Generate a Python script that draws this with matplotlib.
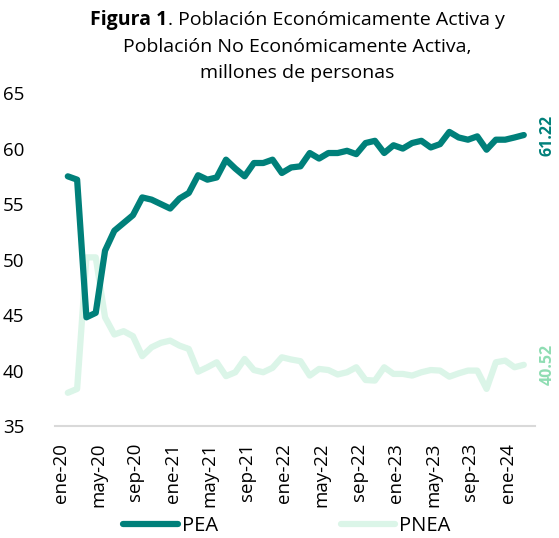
import numpy as np
import matplotlib
matplotlib.use("Agg")
import matplotlib.pyplot as plt
from matplotlib.transforms import ScaledTranslation

plt.rcParams['font.family'] = ['Open Sans', 'DejaVu Sans']

# --- datos (millones de personas), ene-20 a feb-24 ---
meses = ['ene', 'feb', 'mar', 'abr', 'may', 'jun', 'jul', 'ago', 'sep', 'oct', 'nov', 'dic']
anios = ['20', '21', '22', '23', '24']

pea = [57.5, 57.2, 44.8, 45.2, 50.8, 52.6, 53.3, 54.0, 55.6, 55.4, 55.0, 54.6,
       55.5, 56.0, 57.6, 57.2, 57.4, 59.0, 58.2, 57.5, 58.7, 58.7, 59.0, 57.8,
       58.3, 58.4, 59.6, 59.1, 59.6, 59.6, 59.8, 59.5, 60.5, 60.7, 59.6, 60.3,
       60.0, 60.5, 60.7, 60.1, 60.4, 61.5, 61.0, 60.8, 61.1, 59.9, 60.8, 60.8,
       61.0, 61.22]
pnea = [38.0, 38.35, 50.2, 50.2, 44.8, 43.25, 43.55, 43.1, 41.3, 42.1, 42.5, 42.7,
        42.25, 41.95, 39.9, 40.3, 40.75, 39.5, 39.85, 41.05, 40.05, 39.85, 40.25, 41.2,
        41.0, 40.85, 39.55, 40.15, 40.05, 39.65, 39.85, 40.3, 39.15, 39.1, 40.3, 39.7,
        39.7, 39.55, 39.85, 40.05, 40.0, 39.45, 39.75, 40.0, 40.0, 38.35, 40.75, 40.9,
        40.3, 40.52]

etiquetas = [f"{m}-{a}" for a in anios for m in meses][:len(pea)]

color_pea = "#00807A"
color_pnea = "#DBF5E8"
color_lbl_pnea = "#8FDDB3"

fig = plt.figure(figsize=(5.59, 5.38), dpi=100)
ax = fig.add_axes([0.098, 0.208, 0.859, 0.619])

x = np.arange(len(pea))
ax.plot(x, pnea, color=color_pnea, linewidth=4.5, solid_capstyle='round', label='PNEA', zorder=2)
ax.plot(x, pea, color=color_pea, linewidth=4.5, solid_capstyle='round', label='PEA', zorder=3)

ax.set_ylim(35, 65)
ax.set_yticks(range(35, 66, 5))
ax.set_xlim(-1.4, 50.2)
ax.set_xticks(x[::4])
ax.set_xticklabels(etiquetas[::4], rotation=90)
ax.tick_params(axis='both', length=0, labelsize=13.5, colors='#000000')
ax.tick_params(axis='y', pad=22)
ax.tick_params(axis='x', pad=12)
# las etiquetas del eje x quedan un poco a la izquierda de cada punto
desplaz = ScaledTranslation(-5 / 72, 0, fig.dpi_scale_trans)
for lbl in ax.get_xticklabels():
    lbl.set_transform(lbl.get_transform() + desplaz)

for s in ['top', 'right', 'left']:
    ax.spines[s].set_visible(False)
ax.spines['bottom'].set_color('#D9D9D9')
ax.spines['bottom'].set_linewidth(1.5)

# valores finales
ax.text(x[-1] + 2.6, pea[-1], f"{pea[-1]:.2f}", rotation=90, color=color_pea,
        fontsize=11.5, fontweight='bold', ha='center', va='center', clip_on=False)
ax.text(x[-1] + 2.6, pnea[-1], f"{pnea[-1]:.2f}", rotation=90, color=color_lbl_pnea,
        fontsize=11.5, fontweight='bold', ha='center', va='center', clip_on=False)

# titulo con "Figura 1" en negrita
fs_t = 14
cx = 0.532
fig.canvas.draw()
r = fig.canvas.get_renderer()
t1 = fig.text(0, 0, "Figura 1", fontsize=fs_t, fontweight='bold')
t2 = fig.text(0, 0, ". Población Económicamente Activa y", fontsize=fs_t)
w1 = t1.get_window_extent(r).width / fig.bbox.width
w2 = t2.get_window_extent(r).width / fig.bbox.width
x0 = cx - (w1 + w2) / 2
t1.set_position((x0, 0.962))
t2.set_position((x0 + w1, 0.962))
t1.set_va('center')
t2.set_va('center')
fig.text(cx, 0.912, "Población No Económicamente Activa,", fontsize=fs_t, ha='center', va='center')
fig.text(cx, 0.864, "millones de personas", fontsize=fs_t, ha='center', va='center')

h, l = ax.get_legend_handles_labels()
fig.legend(h[::-1], l[::-1], loc='center', bbox_to_anchor=(0.513, 0.022), ncol=2, frameon=False,
           fontsize=14.5, handlelength=2.7, handletextpad=0.2, columnspacing=6.1)

fig.savefig("out.png", dpi=100)
